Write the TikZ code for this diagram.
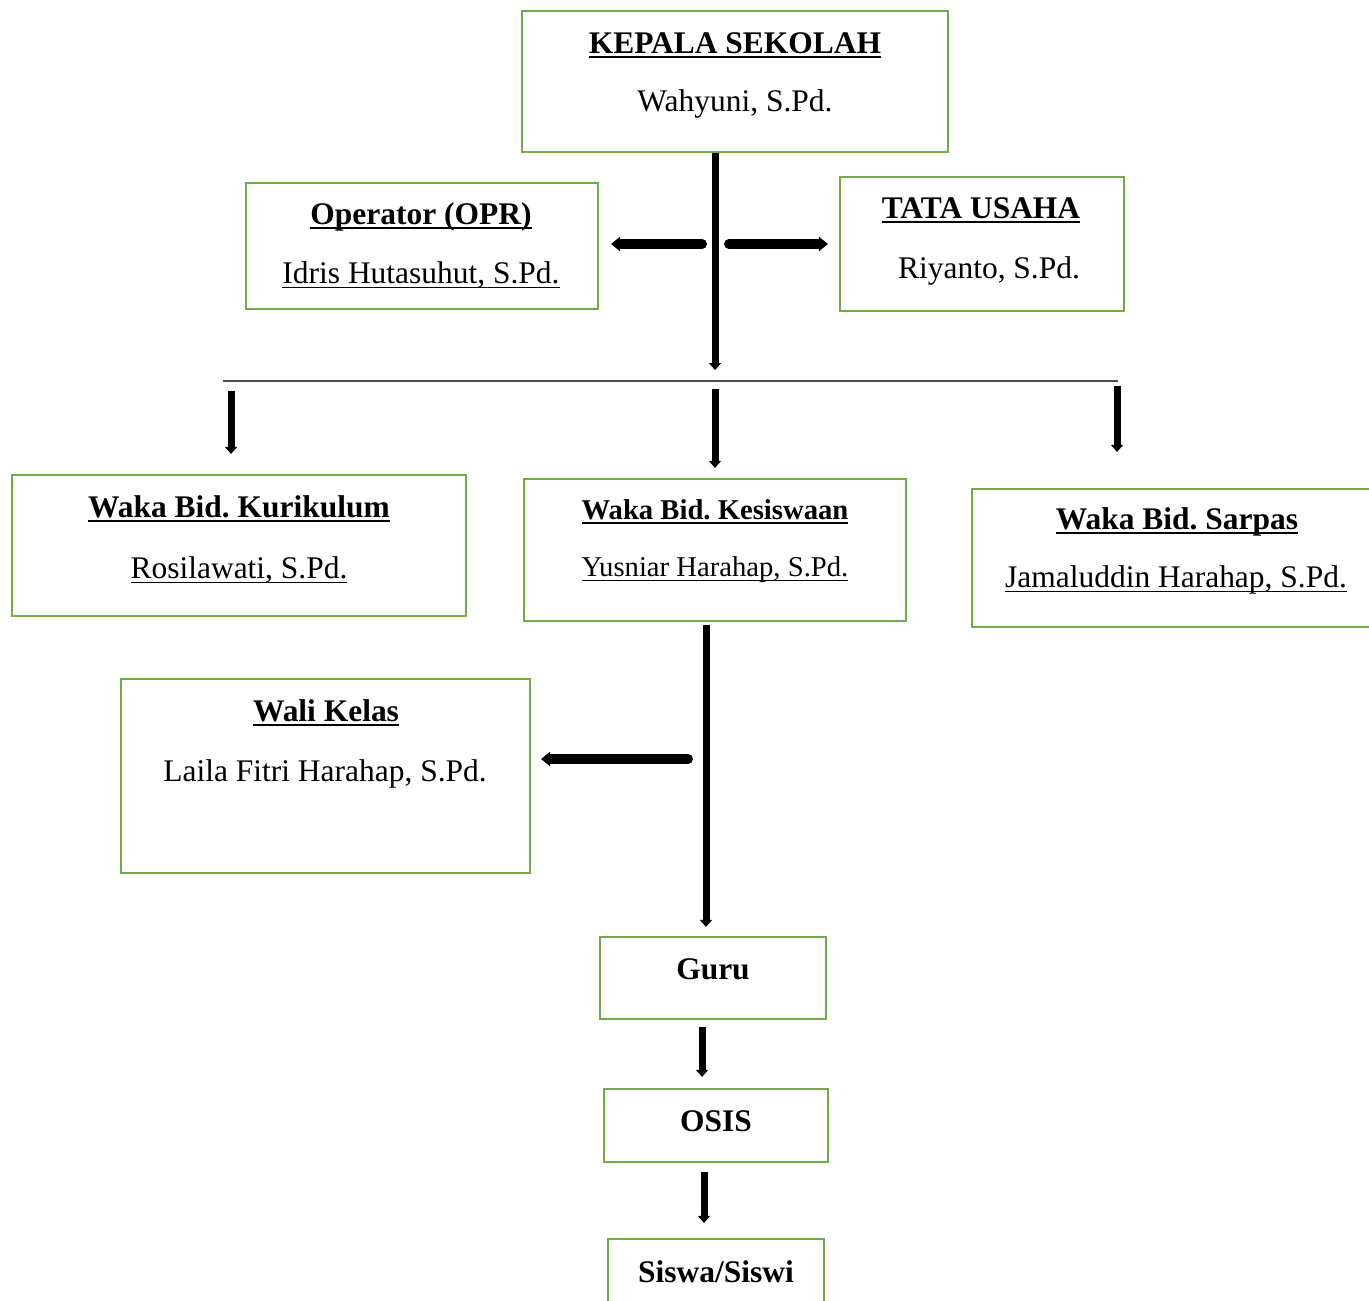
\documentclass[tikz,border=0pt]{standalone}
\usepackage{fontspec}
\setmainfont{Liberation Serif}
\usetikzlibrary{arrows.meta}
\definecolor{grn}{RGB}{112,173,71}
\frenchspacing
\newsavebox{\ulbox}
\newcommand{\myul}[3]{\sbox{\ulbox}{#1}\leavevmode\rlap{\rule[-#2]{\wd\ulbox}{#3}}\usebox{\ulbox}}
\newcommand{\ttl}[1]{\myul{\textbf{#1}}{4pt}{1.6pt}}
\newcommand{\nmu}[1]{\myul{#1}{4pt}{1.1pt}}
\tikzset{
  box/.style={draw=grn, line width=1.6pt, inner sep=0pt, rectangle},
  lbl/.style={anchor=base, inner sep=0pt, font=\fontsize{23.6}{28}\selectfont\frenchspacing},
  lbls/.style={anchor=base, inner sep=0pt, font=\fontsize{21.5}{26}\selectfont\frenchspacing},
  tip/.style={-{Triangle[length=0pt 1.0, width=0pt 1.7]}},
  vline/.style={tip, line width=5.25pt},
  side/.style={-{Triangle[length=0pt 0.9, width=0pt 1.4]}, line width=7.5pt, line cap=round},
  thin/.style={draw=black!70, line width=1.4pt},
}
\begin{document}
\begin{tikzpicture}[x=0.75pt, y=-0.75pt]
\useasboundingbox (0,0) rectangle (1369,1300);
\clip (0,0) rectangle (1369,1300);
\fill[white] (0,0) rectangle (1369,1300);

% boxes
\node[box, minimum width=319.5pt, minimum height=105.75pt] (kepala) at (735,81.5) {};
\node[box, minimum width=264pt, minimum height=94.5pt] (opr) at (422,246) {};
\node[box, minimum width=213pt, minimum height=100.5pt] (tu) at (982,244) {};
\node[box, minimum width=340.5pt, minimum height=105.75pt] (kur) at (239,545.5) {};
\node[box, minimum width=286.5pt, minimum height=106.5pt] (kes) at (715,550) {};
\node[box, minimum width=307.5pt, minimum height=103.5pt] (sar) at (1177,558) {};
\node[box, minimum width=306.75pt, minimum height=145.5pt] (wali) at (325.5,776) {};
\node[box, minimum width=169.5pt, minimum height=61.5pt] (guru) at (713,978) {};
\node[box, minimum width=168pt, minimum height=54.75pt] (osis) at (716,1125.5) {};
\node[box, minimum width=162pt, minimum height=68.25pt] (siswa) at (716,1284.5) {};

% labels
\node[lbl] (kepalaT) at (735,53) {\ttl{KEPALA SEKOLAH}};
\node[lbl] (kepalaN) at (735,111) {Wahyuni, S.Pd.};
\node[lbl] (oprT) at (421,224) {\ttl{Operator (OPR)}};
\node[lbl] (oprN) at (421,283) {\nmu{Idris Hutasuhut, S.Pd.}};
\node[lbl] (tuT) at (981,218) {\ttl{TATA USAHA}};
\node[lbl] (tuN) at (989,278) {Riyanto, S.Pd.};
\node[lbl] (kurT) at (239,517) {\ttl{Waka Bid. Kurikulum}};
\node[lbl] (kurN) at (239,578) {\nmu{Rosilawati, S.Pd.}};
\node[lbls] (kesT) at (715,519) {\ttl{Waka Bid. Kesiswaan}};
\node[lbls] (kesN) at (715,576) {\nmu{Yusniar Harahap, S.Pd.}};
\node[lbl] (sarT) at (1177,529) {\ttl{Waka Bid. Sarpas}};
\node[lbl] (sarN) at (1176,587) {\nmu{Jamaluddin Harahap, S.Pd.}};
\node[lbl] (waliT) at (326,721) {\ttl{Wali Kelas}};
\node[lbl] (waliN) at (325,781) {Laila Fitri Harahap, S.Pd.};
\node[lbl] (guruT) at (713,979) {\textbf{Guru}};
\node[lbl] (osisT) at (716,1131) {\textbf{OSIS}};
\node[lbl] (siswaT) at (716,1282) {\textbf{Siswa/Siswi}};

% connectors
\coordinate (hub) at (715,370);
\coordinate (jL) at (702,244);
\coordinate (jR) at (729,244);
\coordinate (hlL) at (223,381);
\coordinate (hlR) at (1118,381);
\coordinate (d1) at (231,391);
\coordinate (d2) at (715,389);
\coordinate (d3) at (1117,386);
\coordinate (k1) at (706,625);
\coordinate (wj) at (688,759);
\coordinate (g1) at (702,1027);
\coordinate (o1) at (704,1172);

\draw[vline] (kepala.south -| hub) -- (hub);
\draw[side, shorten >=9pt] (jL) -- (opr.east |- jL);
\draw[side, shorten >=8.25pt] (jR) -- (tu.west |- jR);
\draw[thin] (hlL) -- (hlR);
\draw[vline, shorten >=15pt] (d1) -- (d1 |- kur.north);
\draw[vline, shorten >=7.5pt] (d2) -- (d2 |- kes.north);
\draw[vline, shorten >=27pt] (d3) -- (d3 |- sar.north);
\draw[vline, shorten >=6.75pt] (k1) -- (k1 |- guru.north);
\draw[side, shorten >=7.5pt] (wj) -- (wali.east |- wj);
\draw[vline, shorten >=8.25pt] (g1) -- (g1 |- osis.north);
\draw[vline, shorten >=11.25pt] (o1) -- (o1 |- siswa.north);
\end{tikzpicture}
\end{document}
